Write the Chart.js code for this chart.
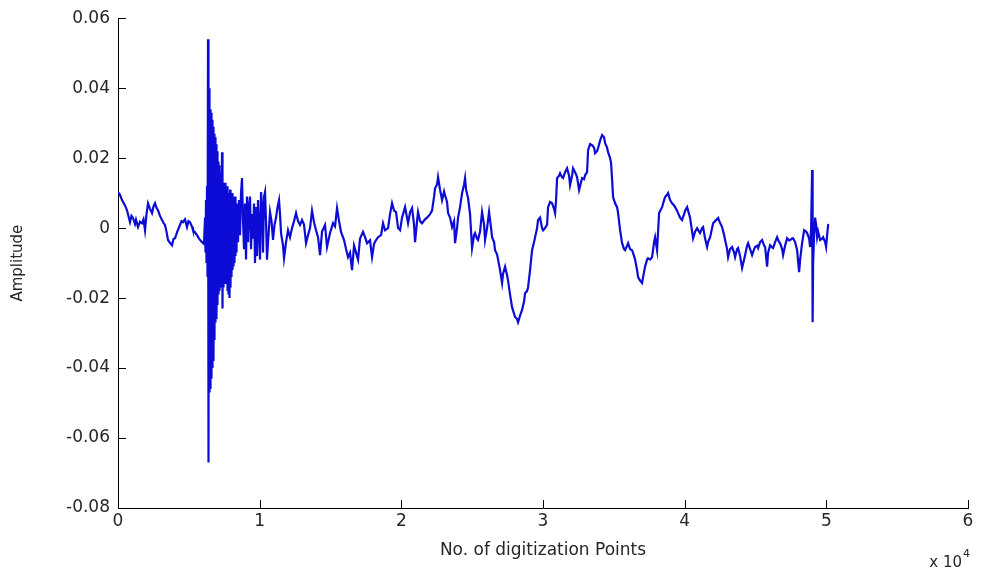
<!DOCTYPE html>
<html>
<head>
<meta charset="utf-8">
<title>Amplitude vs digitization points</title>
<script src="https://cdn.jsdelivr.net/npm/chart.js@4.4.1/dist/chart.umd.min.js"></script>
<style>
  html, body { margin: 0; padding: 0; background: #fff; }
  canvas { display: block; }
</style>
</head>
<body>
<canvas id="sig" width="984" height="573"></canvas>
<script>
// values (sample index, amplitude)
const samples = [
  0, 141, 282, 494, 635, 847, 953, 1059, 1200, 1271, 1412, 1553, 1694, 1800, 1906, 2012,
  2118, 2259, 2400, 2506, 2612, 2718, 2824, 2965, 3106, 3212, 3318, 3424, 3530, 3671, 3812, 3918,
  4024, 4165, 4376, 4482, 4588, 4729, 4871, 4976, 5082, 5224, 5294, 5435, 5576, 5718, 5929, 6071,
  // burst
  6142, 6177, 6213, 6248, 6283, 6319, 6354, 6389, 6424, 6460, 6495, 6530, 6566, 6601, 6636, 6672,
  6707, 6742, 6778, 6813, 6848, 6883, 6919, 6954, 6989, 7025, 7060, 7095, 7131, 7166, 7201, 7237,
  7272, 7307, 7342, 7378, 7413, 7448, 7484, 7519, 7554, 7590, 7625, 7660, 7695, 7731, 7766, 7801,
  7837, 7872, 7907, 7943, 7978, 8013, 8048, 8084, 8119, 8154, 8190, 8225, 8260, 8296, 8331, 8366,
  // coda
  8401, 8472, 8543, 8613, 8684, 8754, 8825, 8896, 8966, 9037, 9107, 9178, 9249, 9319, 9390, 9460,
  9531, 9602, 9672, 9743, 9813, 9884, 9955, 10025, 10096, 10166, 10237, 10308, 10378, 10449, 10519, 10590,
  10731, 10837, 10943, 11049, 11155, 11261, 11367, 11437, 11508, 11649, 11720, 11861, 12002, 12143, 12284, 12425,
  12567, 12708, 12849, 12990, 13131, 13272, 13414, 13555, 13696, 13837, 13978, 14120, 14261, 14402, 14614, 14755,
  14967, 15179, 15320, 15461, 15603, 15744, 15956, 16097, 16238, 16379, 16520, 16662, 16803, 16944, 17085, 17297,
  17438, 17579, 17791, 17932, 18074, 18215, 18356, 18568, 18709, 18850, 19062, 19203, 19344, 19486, 19627, 19768,
  19909,
  20050, 20262, 20474, 20615, 20756, 20898, 20968, 21110, 21180, 21321, 21462, 21674, 21815, 22027, 22168, 22310,
  22380, 22521, 22592, 22733, 22874, 23016, 23086, 23227, 23298, 23439, 23580, 23722, 23792, 23933, 24004, 24145,
  24286, 24428, 24498, 24569, 24710, 24851, 24992, 25134, 25204, 25345, 25416, 25557, 25698, 25840, 25910, 26051,
  26193, 26334, 26405, 26546, 26616, 26757, 26828, 26969, 27110, 27181, 27322, 27463, 27534, 27675, 27816, 27958,
  28028, 28169, 28240, 28381, 28522, 28664, 28734, 28875, 28946, 29087, 29228, 29370, 29440, 29581, 29652, 29793,
  29934, 30005, 30146, 30287, 30358,
  30499, 30640, 30782, 30852, 30923, 30993, 31134, 31205, 31346, 31417, 31558, 31699, 31841, 31911, 32052, 32123,
  32264, 32405, 32547, 32617, 32758, 32900, 32970, 33111, 33182, 33323, 33464, 33606, 33676, 33817, 33888, 34029,
  34170, 34312, 34382, 34523, 34594, 34735, 34806, 34876, 34947, 35088, 35229, 35300, 35441, 35582, 35724, 35794,
  35935, 36006, 36147, 36288, 36430, 36500, 36641, 36712, 36853, 36994, 37065, 37206, 37347, 37418, 37559, 37700,
  37842, 37912, 38053, 38194, 38406, 38548, 38618, 38759, 38830, 38971, 39112, 39254, 39324, 39465, 39536, 39677,
  39818, 39960, 40030, 40171, 40242,
  40383, 40524, 40595, 40736, 40877, 41018, 41089, 41230, 41301, 41442, 41583, 41654, 41795, 41936, 42007, 42148,
  42360, 42501, 42642, 42784, 42854, 42995, 43066, 43207, 43348, 43490, 43560, 43701, 43772, 43913, 44054, 44196,
  44266, 44407, 44478, 44619, 44760, 44902, 44972, 45113, 45184, 45325, 45466, 45608, 45678, 45819, 45890, 46031,
  46172, 46243, 46384, 46525, 46666, 46737, 46878, 46949, 47090, 47231, 47372, 47443, 47584, 47655, 47796, 47937,
  48079, 48149, 48290, 48432, 48573, 48643, 48785, 48855, 48926, 48996, 49032, 49067, 49138, 49208, 49279, 49349,
  49420, 49561, 49702, 49773, 49914, 49984, 50055, 50126, 50196
];

const amplitude = [
  0.0103, 0.0095, 0.008, 0.0065, 0.0051, 0.0017, 0.0035, 0.0029, 0.0012, 0.0024, 0.0003, 0.0018, 0.0014, 0.0025, -0.0006, 0.004,
  0.0071, 0.0055, 0.0043, 0.0062, 0.0071, 0.0058, 0.0051, 0.0035, 0.0023, 0.0015, 0.0009, -0.001, -0.0034, -0.0042, -0.0049, -0.0031,
  -0.0029, -0.0012, 0.0009, 0.002, 0.0017, 0.0025, 0.0003, 0.002, 0.0017, 0.0004, -0.0006, -0.0012, -0.002, -0.003, -0.004, -0.0045,
  // burst
  0.003, -0.007, 0.008, -0.010, 0.012, -0.014, 0.054, -0.067, 0.040, -0.047, 0.034, -0.046, 0.033, -0.043, 0.031, -0.040,
  0.029, -0.038, 0.027, -0.032, 0.026, -0.027, 0.024, -0.026, 0.022, -0.022, 0.019, -0.019, 0.018, -0.018, 0.016, -0.017,
  0.014, -0.016, 0.0217, -0.023, 0.013, -0.017, 0.012, -0.016, 0.013, -0.015, 0.011, -0.016, 0.012, -0.018, 0.010, -0.019,
  0.009, -0.020, 0.011, -0.017, 0.008, -0.014, 0.010, -0.012, 0.009, -0.011, 0.008, -0.010, 0.009, -0.008, 0.006, -0.007,
  // coda
  0.007, -0.004, 0.008, -0.002, 0.010, 0.0143, 0.002, -0.006, 0.007, -0.009, 0.009, -0.004, 0.006, 0.009, -0.006, 0.004,
  -0.003, 0.007, -0.010, 0.006, -0.008, 0.008, 0.0, -0.009, 0.0103, 0.006, -0.007, 0.009, 0.0103, 0.002, -0.009, -0.004,
  0.0046, 0.002, -0.0034, 0.001, 0.003, 0.006, 0.008, 0.004, -0.0014, -0.005, -0.0086, -0.004, -0.0006, -0.0026, 0.0, 0.002,
  0.0043, 0.002, 0.0009, 0.0023, 0.001, -0.0043, -0.002, 0.0, 0.005, 0.0017, -0.0006, -0.0026, -0.0077, -0.001, 0.0009, -0.0054,
  -0.0014, 0.0014, 0.0005, 0.0057, 0.002, -0.0011, -0.0034, -0.006, -0.0083, -0.007, -0.012, -0.005, -0.007, -0.009, -0.003, -0.0011,
  -0.0026, -0.0043, -0.0035, -0.0083, -0.0045, -0.0034, -0.0026, -0.002, 0.0014, -0.0006, 0.0, 0.004, 0.0071, 0.005, 0.0046, 0.0,
  -0.0006,
  0.003, 0.006, 0.0014, 0.0045, 0.0057, 0.001, -0.004, 0.002, 0.0046, 0.002, 0.0014, 0.0025, 0.003, 0.004, 0.005, 0.009,
  0.0114, 0.0125, 0.0146, 0.011, 0.008, 0.0105, 0.0094, 0.0075, 0.0043, 0.003, 0.0003, 0.002, -0.0043, 0.0, 0.003, 0.006,
  0.010, 0.0125, 0.0143, 0.011, 0.0086, 0.004, -0.0057, -0.002, -0.0014, -0.003, -0.0034, -0.001, 0.0046, 0.001, -0.0034, 0.0,
  0.0046, 0.0, -0.0026, -0.004, -0.0063, -0.0075, -0.009, -0.012, -0.0157, -0.013, -0.011, -0.0135, -0.015, -0.019, -0.0226, -0.0245,
  -0.0254, -0.026, -0.0269, -0.025, -0.0234, -0.021, -0.0186, -0.018, -0.0169, -0.012, -0.0063, -0.004, -0.0026, 0.0, 0.0023, 0.003,
  0.0, -0.0006, 0.0, 0.001, 0.006,
  0.0075, 0.0071, 0.0055, 0.0043, 0.008, 0.0143, 0.015, 0.0157, 0.0145, 0.0143, 0.016, 0.0171, 0.015, 0.0123, 0.015, 0.0171,
  0.016, 0.0146, 0.0109, 0.012, 0.0143, 0.014, 0.0151, 0.016, 0.0223, 0.024, 0.0237, 0.023, 0.0214, 0.022, 0.0229, 0.025,
  0.0266, 0.026, 0.0243, 0.023, 0.0217, 0.020, 0.0186, 0.014, 0.0089, 0.0071, 0.006, 0.0043, -0.0006, -0.0043, -0.006, -0.0063,
  -0.005, -0.0043, -0.006, -0.0063, -0.008, -0.009, -0.012, -0.014, -0.015, -0.0157, -0.014, -0.011, -0.009, -0.0086, -0.009, -0.0083,
  -0.004, -0.0026, -0.0063, 0.0043, 0.006, 0.008, 0.0089, 0.0095, 0.010, 0.008, 0.0071, 0.0065, 0.006, 0.005, 0.0043, 0.003,
  0.0023, 0.004, 0.005, 0.006, 0.005,
  0.003, -0.001, -0.0029, -0.001, 0.0, -0.001, -0.0014, 0.0, 0.0003, -0.003, -0.0054, -0.004, -0.0026, 0.0, 0.0014, 0.002,
  0.0029, 0.0015, 0.0003, -0.002, -0.0034, -0.006, -0.0083, -0.006, -0.0054, -0.007, -0.0083, -0.006, -0.0057, -0.008, -0.0114, -0.009,
  -0.0077, -0.005, -0.0043, -0.006, -0.0077, -0.006, -0.0054, -0.005, -0.0057, -0.004, -0.0034, -0.005, -0.0054, -0.011, -0.007, -0.0049,
  -0.0055, -0.0057, -0.004, -0.0026, -0.004, -0.0043, -0.006, -0.0077, -0.005, -0.0029, -0.0035, -0.0034, -0.003, -0.0029, -0.004, -0.0063,
  -0.0126, -0.009, -0.0043, -0.0006, -0.001, -0.0014, -0.003, -0.0054, 0.0, 0.0166, -0.0269, -0.010, -0.002, 0.003, 0.001, -0.0026,
  -0.001, -0.0034, -0.003, -0.0026, -0.004, -0.0054, -0.002, 0.0009, 0.001
];

const xTickValues = [0, 1, 2, 3, 4, 5, 6];   // shown as x 10^4
const yTickValues = [-0.08, -0.06, -0.04, -0.02, 0, 0.02, 0.04, 0.06];

const LINE = "#0c0cd6";
const TEXT = "#262626";
const FONT = { family: "'DejaVu Sans', 'Liberation Sans', sans-serif", size: 17 };

const points = samples.map((s, i) => ({ x: s, y: amplitude[i] }));

// MATLAB style ticks that point into the plot
const innerTicks = {
  id: "innerTicks",
  afterDraw(c) {
    const { ctx, scales: { x, y } } = c;
    ctx.save();
    ctx.strokeStyle = "#000";
    ctx.lineWidth = 1;
    ctx.beginPath();
    x.ticks.forEach(t => {
      const px = Math.round(x.getPixelForValue(t.value)) + 0.5;
      ctx.moveTo(px, x.top);
      ctx.lineTo(px, x.top - 8);
    });
    y.ticks.forEach(t => {
      const py = Math.round(y.getPixelForValue(t.value)) + 0.5;
      ctx.moveTo(y.right, py);
      ctx.lineTo(y.right + 8, py);
    });
    ctx.stroke();
    ctx.restore();
  }
};

// the "x 10^4" multiplier under the right end of the x axis
const exponentLabel = {
  id: "exponentLabel",
  afterDraw(c) {
    const { ctx, scales: { x } } = c;
    ctx.save();
    ctx.fillStyle = TEXT;
    ctx.textBaseline = "alphabetic";
    ctx.textAlign = "right";
    ctx.font = "15px " + FONT.family;
    const right = x.right - 6;
    ctx.fillText("x 10", right, 567);
    ctx.font = "11px " + FONT.family;
    ctx.textAlign = "left";
    ctx.fillText("4", right + 1, 557);
    ctx.restore();
  }
};

new Chart(document.getElementById("sig"), {
  type: "line",
  data: {
    datasets: [{
      data: points,
      borderColor: LINE,
      borderWidth: 2.2,
      pointRadius: 0,
      tension: 0,
      fill: false
    }]
  },
  options: {
    responsive: false,
    animation: false,
    devicePixelRatio: 1,
    layout: { padding: { top: 18, right: 16, left: 0, bottom: 0 } },
    plugins: { legend: { display: false }, tooltip: { enabled: false } },
    scales: {
      x: {
        type: "linear",
        min: xTickValues[0] * 1e4,
        max: xTickValues[xTickValues.length - 1] * 1e4,
        afterFit(s) { s.height = 65; },
        afterBuildTicks(s) { s.ticks = xTickValues.map(v => ({ value: v * 1e4 })); },
        ticks: { callback: v => String(Math.round(v / 1e4)), padding: 3, color: TEXT, font: FONT, maxRotation: 0, autoSkip: false },
        grid: { drawOnChartArea: false, drawTicks: false },
        border: { color: "#000", width: 1 },
        title: { display: true, text: "No. of digitization Points", color: TEXT, font: FONT, padding: { top: 0, bottom: 12 } }
      },
      y: {
        min: yTickValues[0],
        max: yTickValues[yTickValues.length - 1],
        afterFit(s) { s.width = 118; },
        afterBuildTicks(s) { s.ticks = yTickValues.map(v => ({ value: v })); },
        ticks: {
          callback: v => Math.abs(v) < 1e-9 ? "0" : v.toFixed(2),
          padding: 8, color: TEXT, font: FONT, autoSkip: false
        },
        grid: { drawOnChartArea: false, drawTicks: false },
        border: { color: "#000", width: 1 },
        title: { display: true, text: "Amplitude", color: TEXT, font: { family: FONT.family, size: 15 }, padding: { top: 9, bottom: 0 } }
      }
    }
  },
  plugins: [innerTicks, exponentLabel]
});
</script>
</body>
</html>
